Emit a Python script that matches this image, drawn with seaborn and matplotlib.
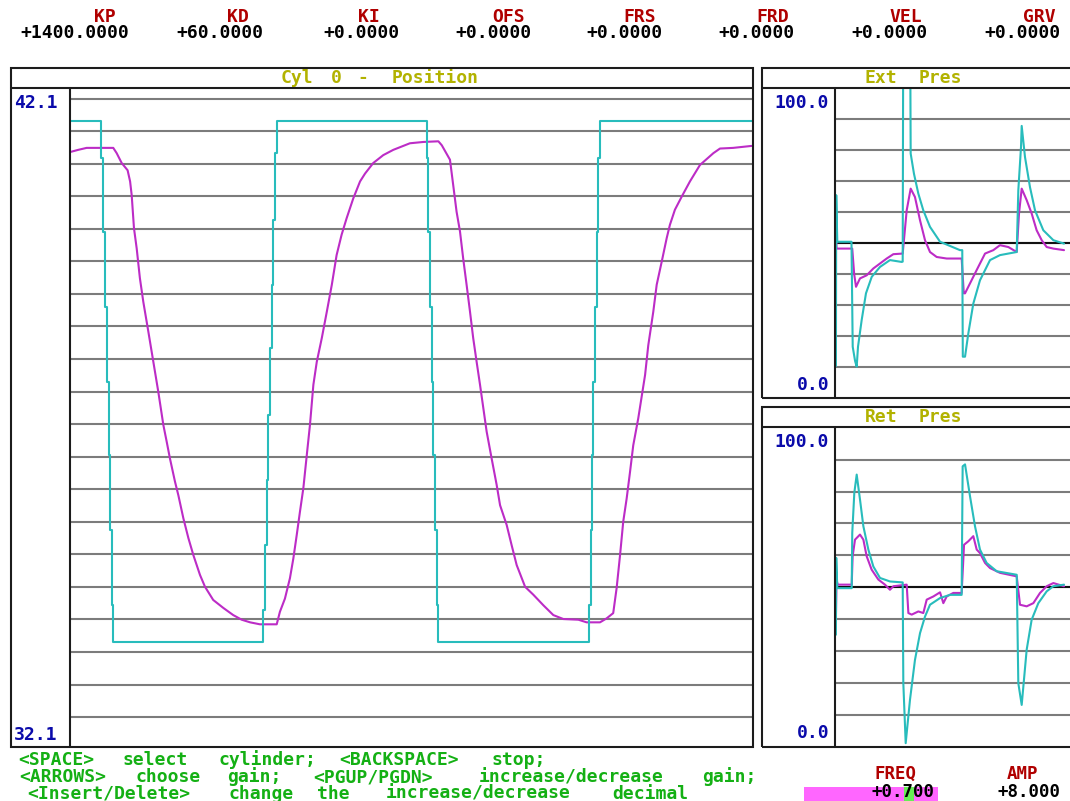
import re
import numpy as np
import matplotlib
matplotlib.use("Agg")
import matplotlib.pyplot as plt
from matplotlib.lines import Line2D
from matplotlib.patches import Rectangle
import seaborn as sns

gain_names = ["KP", "KD", "KI", "OFS", "FRS", "FRD", "VEL", "GRV"]
gain_values = ["+1400.0000", "+60.0000", "+0.0000", "+0.0000",
               "+0.0000", "+0.0000", "+0.0000", "+0.0000"]

pos_title = "Cyl 0 - Position"
pos_top, pos_bottom = "42.1", "32.1"
ext_title, ret_title = "Ext Pres", "Ret Pres"
pres_top, pres_bottom = "100.0", "0.0"

help_lines = ["<SPACE> select cylinder;<BACKSPACE> stop;",
              "<ARROWS> choose gain; <PGUP/PGDN> increase/decrease gain;",
              "<Insert/Delete> change the increase/decrease decimal"]
freq_label, freq_value = "FREQ", "+0.700"
amp_label, amp_value = "AMP", "+8.000"

# position command (cyan, stepped) - time [s], position
cmd_t = [0.000, 0.136, 0.144, 0.152, 0.161, 0.170, 0.176, 0.183, 0.190,
         0.849, 0.856, 0.864, 0.871, 0.878, 0.886, 0.893, 0.900, 0.908,
         1.567, 1.574, 1.581, 1.589, 1.596, 1.603, 1.611, 1.618,
         2.280, 2.287, 2.294, 2.299, 2.306, 2.314, 2.321, 2.328, 3.000]
cmd_v = [41.60, 41.04, 39.91, 38.77, 37.63, 36.52, 35.38, 34.24, 33.68,
         34.17, 35.15, 36.14, 37.13, 38.15, 39.11, 40.09, 41.11, 41.60,
         41.04, 39.91, 38.77, 37.63, 36.52, 35.38, 34.24, 33.68,
         34.24, 35.38, 36.52, 37.63, 38.77, 39.91, 41.04, 41.60, 41.60]

# actual position (magenta)
pos_t = [0.004, 0.036, 0.073, 0.190, 0.205, 0.227, 0.253, 0.264, 0.271, 0.281,
         0.293, 0.307, 0.322, 0.344, 0.366, 0.388, 0.410, 0.425, 0.439, 0.461,
         0.476, 0.498, 0.520, 0.542, 0.571, 0.593, 0.629, 0.673, 0.717, 0.754,
         0.791, 0.834, 0.908, 0.922, 0.944, 0.966, 0.981, 0.996, 1.010, 1.025,
         1.040, 1.054, 1.069, 1.084, 1.106, 1.128, 1.150, 1.171, 1.193, 1.215,
         1.244, 1.274, 1.296, 1.332, 1.376, 1.420, 1.493, 1.552, 1.618, 1.633,
         1.669, 1.683, 1.698, 1.713, 1.727, 1.742, 1.757, 1.771, 1.786, 1.801,
         1.830, 1.852, 1.874, 1.889, 1.918, 1.940, 1.962, 1.999, 2.035, 2.079,
         2.123, 2.167, 2.233, 2.269, 2.328, 2.357, 2.386, 2.401, 2.416, 2.430,
         2.445, 2.460, 2.474, 2.496, 2.526, 2.540, 2.562, 2.577, 2.599, 2.621,
         2.635, 2.657, 2.687, 2.723, 2.767, 2.826, 2.855, 2.913, 2.994]
pos_v = [41.13, 41.16, 41.19, 41.19, 41.11, 40.96, 40.85, 40.68, 40.47, 39.97,
         39.66, 39.21, 38.85, 38.40, 37.94, 37.48, 36.98, 36.72, 36.47, 36.12,
         35.91, 35.56, 35.26, 35.00, 34.70, 34.52, 34.32, 34.20, 34.09, 34.02,
         33.98, 33.95, 33.95, 34.14, 34.34, 34.65, 34.95, 35.31, 35.66, 36.02,
         36.52, 36.98, 37.59, 37.94, 38.30, 38.70, 39.11, 39.56, 39.87, 40.12,
         40.42, 40.68, 40.80, 40.96, 41.08, 41.16, 41.26, 41.28, 41.29, 41.23,
         41.01, 40.63, 40.22, 39.92, 39.51, 39.11, 38.70, 38.30, 37.94, 37.59,
         36.88, 36.47, 36.07, 35.76, 35.46, 35.15, 34.85, 34.52, 34.40, 34.24,
         34.09, 34.03, 34.02, 33.98, 33.98, 34.04, 34.12, 34.50, 35.00, 35.51,
         35.86, 36.27, 36.67, 37.08, 37.74, 38.19, 38.70, 39.11, 39.46, 39.82,
         40.02, 40.25, 40.45, 40.68, 40.93, 41.11, 41.18, 41.19, 41.22]

# extend-side pressure (%)
ext_c_t = [0.012, 0.016, 0.030, 0.215, 0.231, 0.262, 0.283, 0.300, 0.348, 0.404,
           0.479, 0.587, 0.717, 0.870, 0.883, 0.890, 0.980, 0.987, 1.030, 1.087,
           1.152, 1.239, 1.370, 1.630, 1.660, 1.667, 1.696, 1.739, 1.804, 1.891,
           2.022, 2.152, 2.370, 2.391, 2.426, 2.435, 2.478, 2.543, 2.609, 2.717,
           2.848, 2.987]
ext_c_v = [10.4, 65.4, 50.4, 50.4, 16.6, 12.0, 10.2, 16.6, 25.2, 33.8,
           39.1, 42.3, 44.5, 43.9, 44.0, 120.0, 120.0, 78.8, 72.3, 65.9,
           60.5, 55.2, 50.4, 47.7, 47.7, 13.4, 13.4, 20.9, 30.5, 38.0,
           44.5, 46.1, 47.1, 67.0, 80.9, 87.7, 77.7, 68.0, 60.5, 54.1,
           50.9, 49.8]
ext_m_t = [0.012, 0.020, 0.225, 0.250, 0.274, 0.326, 0.413, 0.500, 0.587, 0.674,
           0.761, 0.883, 0.935, 0.987, 1.043, 1.109, 1.174, 1.239, 1.326, 1.457,
           1.652, 1.680, 1.696, 1.761, 1.848, 1.957, 2.065, 2.152, 2.261, 2.370,
           2.400, 2.435, 2.500, 2.565, 2.630, 2.696, 2.761, 2.848, 2.987]
ext_m_v = [55.7, 48.2, 48.2, 40.0, 35.9, 38.6, 39.6, 41.8, 43.4, 45.0,
           46.4, 46.6, 60.5, 67.5, 64.8, 57.3, 50.9, 47.1, 45.5, 45.0,
           45.0, 33.8, 33.8, 37.0, 41.3, 46.6, 47.7, 49.3, 48.7, 47.1,
           59.5, 67.5, 63.8, 59.5, 54.1, 50.9, 48.7, 48.2, 47.7]

# retract-side pressure (%)
ret_c_t = [0.012, 0.016, 0.030, 0.218, 0.225, 0.252, 0.283, 0.326, 0.370, 0.435,
           0.500, 0.587, 0.717, 0.883, 0.891, 0.922, 0.978, 1.043, 1.109, 1.174,
           1.239, 1.370, 1.500, 1.652, 1.665, 1.696, 1.761, 1.826, 1.891, 1.978,
           2.109, 2.370, 2.391, 2.435, 2.500, 2.565, 2.652, 2.761, 2.848, 2.987]
ret_c_v = [35.1, 59.2, 49.7, 49.7, 67.0, 79.6, 85.3, 77.5, 69.1, 61.8,
           56.5, 52.9, 51.8, 51.5, 20.0, 1.1, 14.7, 27.2, 35.6, 40.8,
           44.5, 46.6, 47.6, 47.6, 87.9, 88.5, 78.5, 69.1, 61.8, 57.6,
           55.0, 53.9, 19.9, 13.1, 30.4, 39.8, 45.0, 48.7, 50.3, 50.8]
ret_m_t = [0.012, 0.020, 0.035, 0.218, 0.230, 0.261, 0.326, 0.370, 0.413, 0.478,
           0.565, 0.652, 0.717, 0.761, 0.935, 0.957, 1.000, 1.087, 1.152, 1.196,
           1.283, 1.370, 1.413, 1.457, 1.543, 1.652, 1.683, 1.739, 1.804, 1.848,
           1.891, 1.957, 2.022, 2.152, 2.370, 2.413, 2.500, 2.587, 2.674, 2.761,
           2.848, 2.987]
ret_m_v = [40.8, 52.4, 50.8, 50.8, 59.7, 64.9, 66.5, 64.9, 59.7, 55.5,
           52.4, 50.8, 49.2, 50.3, 50.8, 41.9, 41.4, 42.4, 41.9, 46.1,
           47.1, 48.4, 45.0, 47.1, 48.2, 48.2, 63.3, 64.4, 66.0, 61.8,
           60.7, 57.6, 56.0, 54.5, 53.4, 44.5, 44.0, 45.0, 48.2, 50.3,
           51.3, 50.3]

# ---------------- style ----------------
sns.set_theme(style="white")
FONT = ["DejaVu Sans Mono", "DejaVu Sans"]
plt.rcParams["font.family"] = FONT
FS = 13
FS_SMALL = 12.5
CYAN = "#28BCBC"
MAGENTA = "#BC2CC6"
GRID = "#7c7c7c"
BORDER = "#1c1c1c"
TITLE_C = "#B2B200"
BLUE = "#0A0AAA"
RED = "#B00000"
GREEN = "#14B014"

W, H = 1070, 801
fig = plt.figure(figsize=(W / 100, H / 100), dpi=100)
fig.patch.set_facecolor("white")


def fx(x):
    return x / W


def fy(y):
    return 1 - y / H


def txt(x, y, s, color, ha="left", va="baseline", size=None, **kw):
    return fig.text(fx(x), fy(y), s, color=color, ha=ha, va=va,
                    fontsize=size or FS, fontweight="bold", family=FONT, **kw)


TOKEN = re.compile(r"<[^>]*>|[^\s<]+")


def grid_text(x0, yb, s, color, cw=13.2):
    # DOS style fixed character grid: each word centred in its cell span
    for m in TOKEN.finditer(s):
        xc = x0 + (m.start() + len(m.group()) / 2) * cw
        txt(xc, yb, m.group(), color, ha="center")


def box(x0, y0, x1, y1):
    fig.add_artist(Rectangle((fx(x0), fy(y1)), (x1 - x0) / W, (y1 - y0) / H,
                             transform=fig.transFigure, fill=False,
                             lw=1.5, ec=BORDER, zorder=10))


def seg(xs, ys):
    fig.add_artist(Line2D([fx(v) for v in xs], [fy(v) for v in ys],
                          transform=fig.transFigure, color=BORDER, lw=1.5,
                          zorder=10))


def panel(x0, y0, x1, y1, xlim, ylim, yticks):
    ax = fig.add_axes([fx(x0), fy(y1), (x1 - x0) / W, (y1 - y0) / H])
    ax.set_facecolor("white")
    ax.set_xlim(*xlim)
    ax.set_ylim(*ylim)
    ax.set_xticks([])
    ax.set_yticks(yticks)
    ax.tick_params(left=False, labelleft=False, bottom=False, labelbottom=False)
    ax.yaxis.grid(True, color=GRID, lw=1.5)
    ax.xaxis.grid(False)
    ax.set_axisbelow(True)
    for s in ax.spines.values():
        s.set_visible(False)
    return ax


# ---------------- main position panel ----------------
ax_pos = panel(70, 88, 753, 746.7, (0, 3.0), (32.09, 42.1),
               np.linspace(32.54, 41.94, 20))
sns.lineplot(x=pos_t, y=pos_v, ax=ax_pos, color=MAGENTA, lw=1.5,
             estimator=None, sort=False)
sns.lineplot(x=cmd_t, y=cmd_v, ax=ax_pos, color=CYAN, lw=1.5,
             estimator=None, sort=False, drawstyle="steps-post")
ax_pos.set_xlabel("")
ax_pos.set_ylabel("")

# ---------------- pressure panels ----------------
t_right = (1075 - 835) / 76.67
ax_ext = panel(835, 87.7, 1075, 398.3, (0, t_right), (0, 100), range(10, 100, 10))
ax_ret = panel(835, 427.7, 1075, 746.7, (0, t_right), (0, 100), range(10, 100, 10))
for ax, (ct, cv, mt, mv) in [(ax_ext, (ext_c_t, ext_c_v, ext_m_t, ext_m_v)),
                             (ax_ret, (ret_c_t, ret_c_v, ret_m_t, ret_m_v))]:
    ax.axhline(50, color="#111111", lw=1.5, zorder=1.5)
    sns.lineplot(x=mt, y=mv, ax=ax, color=MAGENTA, lw=1.5,
                 estimator=None, sort=False)
    sns.lineplot(x=ct, y=cv, ax=ax, color=CYAN, lw=1.5,
                 estimator=None, sort=False)
    ax.set_xlabel("")
    ax.set_ylabel("")

# ---------------- frames ----------------
box(11, 68, 753, 746.7)
seg([11, 753], [88, 88])
seg([70, 70], [88, 746.7])
for y0, y1 in [(68, 398.3), (406.7, 746.7)]:
    box(762, y0, 1085, y1)
    seg([762, 1085], [y0 + 20, y0 + 20])
    seg([835, 835], [y0 + 20, y1])

# ---------------- texts ----------------
grid_text(277, 83, pos_title, TITLE_C)
grid_text(861, 83, ext_title, TITLE_C)
grid_text(861, 422.5, ret_title, TITLE_C)

txt(14, 108, pos_top, BLUE)
txt(14, 740, pos_bottom, BLUE)
txt(829, 107.5, pres_top, BLUE, ha="right")
txt(829, 390, pres_bottom, BLUE, ha="right")
txt(829, 447, pres_top, BLUE, ha="right")
txt(829, 738, pres_bottom, BLUE, ha="right")

label_x = [105, 238, 369, 509, 640, 773, 906, 1039]
value_x = [75, 220, 361, 493, 624, 756, 889, 1022]
for name, val, lx, vx in zip(gain_names, gain_values, label_x, value_x):
    txt(lx, 21.5, name, RED, ha="center")
    txt(vx, 38, val, "black", ha="center")

for i, line in enumerate(help_lines):
    grid_text(10, 765 + 17 * i, line, GREEN)

# FREQ / AMP
txt(896, 779, freq_label, RED, ha="center", size=FS_SMALL)
txt(1022, 779, amp_label, RED, ha="center", size=FS_SMALL)
fig.add_artist(Rectangle((fx(804), fy(802)), (938 - 804) / W, (802 - 787) / H,
                         transform=fig.transFigure, color="#FF66FF", lw=0,
                         zorder=5))
cw = 0.602 * FS_SMALL * 100 / 72
x_end = 935
x7 = x_end - len(freq_value) * cw + freq_value.index("7") * cw
fig.add_artist(Rectangle((fx(x7), fy(802)), cw / W, (802 - 787) / H,
                         transform=fig.transFigure, color="#66EE55", lw=0,
                         zorder=6))
txt(x_end, 796.8, freq_value, "black", ha="right", size=FS_SMALL, zorder=12)
txt(1029, 796.8, amp_value, "black", ha="center", size=FS_SMALL)

fig.savefig("out.png", dpi=100, facecolor="white")
